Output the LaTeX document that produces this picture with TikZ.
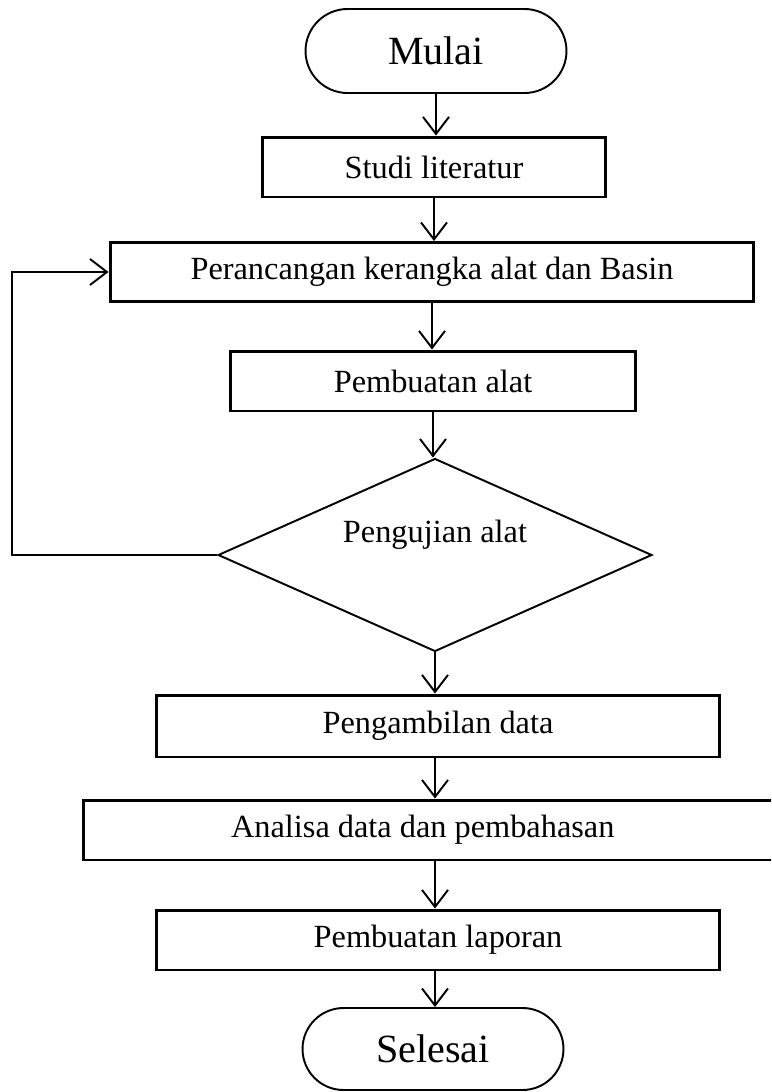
\documentclass[tikz,border=0pt]{standalone}
\usepackage{fontspec}
\setmainfont{Liberation Serif}
\usepackage{tikz}
\usetikzlibrary{shapes.geometric, shapes.misc, arrows.meta, positioning, calc}
\tikzset{
  termnode/.style={rounded rectangle, draw=black, line width=1.1pt, minimum width=5.22cm, minimum height=#1, inner sep=0pt, font=\fontsize{22.8}{26}\selectfont},
  procnode/.style={rectangle, draw=black, line width=1.7pt, minimum width=#1, minimum height=1.2cm, inner sep=0pt, font=\fontsize{18.4}{21}\selectfont},
  decnode/.style={diamond, draw=black, line width=1.1pt, minimum width=8.68cm, minimum height=3.86cm, inner sep=0pt},
  flowline/.style={draw, line width=1.1pt, -{Straight Barb[length=0.34cm, width=0.52cm, line width=1.1pt]}},
}
\begin{document}
\begin{tikzpicture}[x=0.02cm, y=-0.02cm]
\clip (0,0) rectangle (771,1092);
\node[termnode=1.68cm] (start) at (436,51) {Mulai};
\node[procnode=6.86cm] (lit) at (434,167) {Studi literatur};
\node[procnode=12.88cm, minimum height=1.18cm] (design) at (432,272) {Perancangan kerangka alat dan Basin};
\node[procnode=8.12cm] (build) at (433,381) {Pembuatan alat};
\node[decnode, label={[font=\fontsize{18.4}{21}\selectfont, yshift=0.4cm]center:Pengujian alat}] (test) at (435,555) {};
\node[procnode=11.26cm, minimum height=1.24cm] (data) at (438,726) {Pengambilan data};
\node[procnode=14.04cm] (anal) at (434,830) {\hspace*{-0.45cm}Analisa data dan pembahasan};
\node[procnode=11.26cm] (report) at (438,940) {Pembuatan laporan};
\node[termnode=1.64cm] (stop) at (433,1049) {Selesai};

\draw[flowline] (start.south) -- (start.south |- lit.north);
\draw[flowline] (lit.south) -- (lit.south |- design.north);
\draw[flowline] (design.south) -- (design.south |- build.north);
\draw[flowline] (build.south) -- (build.south |- test.north);
\draw[flowline] (test.south) -- (test.south |- data.north);
\draw[flowline] (data.south -| test.south) -- (test.south |- anal.north);
\draw[flowline] (anal.south -| test.south) -- (test.south |- report.north);
\draw[flowline] (report.south -| test.south) -- (test.south |- stop.north);
\draw[flowline, line width=1.5pt] (test.west) -- ++(-205,0) |- (design.west);
\end{tikzpicture}
\end{document}
